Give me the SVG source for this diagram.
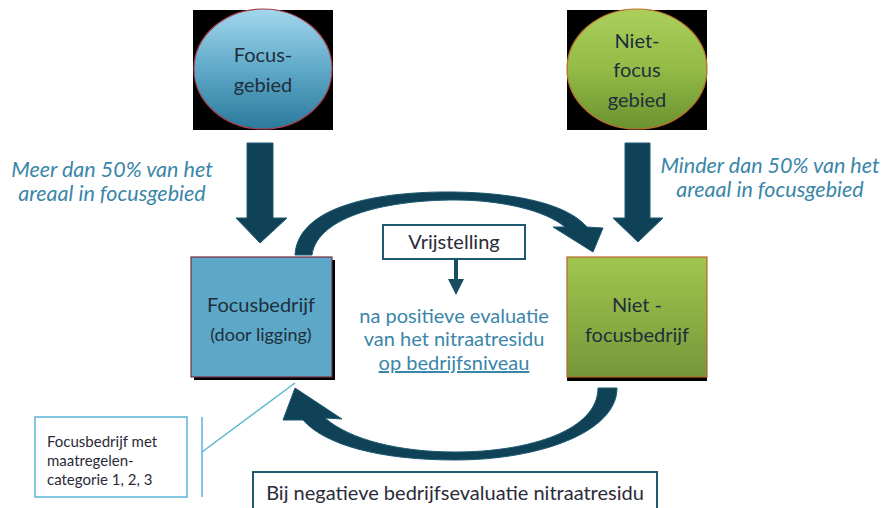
<svg xmlns="http://www.w3.org/2000/svg" width="881" height="508" viewBox="0 0 881 508">
<defs>
<linearGradient id="gBlue" x1="0" y1="0" x2="0" y2="1">
<stop offset="0" stop-color="#a3d6ec"/><stop offset="0.5" stop-color="#5fa9c9"/><stop offset="1" stop-color="#2b7a9c"/>
</linearGradient>
<linearGradient id="gGreen" x1="0" y1="0" x2="0" y2="1">
<stop offset="0" stop-color="#accf5c"/><stop offset="0.5" stop-color="#93bb46"/><stop offset="1" stop-color="#6a9230"/>
</linearGradient>
<linearGradient id="gGreenBox" x1="0" y1="0" x2="0" y2="1">
<stop offset="0" stop-color="#a0c64e"/><stop offset="1" stop-color="#76973a"/>
</linearGradient>
<marker id="smallHead" markerWidth="4" markerHeight="4" refX="2" refY="2" orient="auto" markerUnits="strokeWidth">
<path d="M0,0 L4,2 L0,4 Z" fill="#1a4d62"/>
</marker>
</defs>
<style>
.node{font-family:Lato,"Open Sans","Liberation Sans",sans-serif;fill:#1e2f3b;text-anchor:middle}
.blue{font-family:Lato,"Open Sans","Liberation Sans",sans-serif;fill:#3a86a8;text-anchor:middle}
.ital{font-style:italic}
.arrow{fill:#0f4256;stroke:#1d5a72;stroke-width:1}
.dark{font-family:Lato,"Open Sans","Liberation Sans",sans-serif;fill:#2b2b3a}
</style>
<rect width="881" height="508" fill="#ffffff"/>

<g id="focus-gebied">
<rect x="193" y="10" width="140" height="120" fill="#000"/>
<ellipse cx="263" cy="69" rx="69" ry="60" fill="url(#gBlue)" stroke="#a8404e" stroke-width="1.2"/>
<text class="node" x="263" y="62" font-size="20">Focus-</text>
<text class="node" x="263" y="92" font-size="20">gebied</text>
</g>

<g id="niet-focus-gebied">
<rect x="567" y="10" width="140" height="120" fill="#000"/>
<ellipse cx="637" cy="69" rx="70" ry="60" fill="url(#gGreen)" stroke="#c0702a" stroke-width="1.2"/>
<text class="node" x="637" y="48" font-size="20">Niet-</text>
<text class="node" x="637" y="77" font-size="20">focus</text>
<text class="node" x="637" y="107" font-size="20">gebied</text>
</g>

<g id="label-meer">
<text class="blue ital" x="112" y="177" font-size="21.5">Meer dan 50% van het</text>
<text class="blue ital" x="112" y="201" font-size="21.5">areaal in focusgebied</text>
</g>
<g id="label-minder">
<text class="blue ital" x="770" y="173" font-size="21.5">Minder dan 50% van het</text>
<text class="blue ital" x="770" y="197" font-size="21.5">areaal in focusgebied</text>
</g>

<g id="focusbedrijf">
<rect x="194" y="260" width="141" height="120" fill="#000"/>
<rect x="191" y="257" width="141" height="120" fill="#5da8c8" stroke="#7a2c40" stroke-width="1.2"/>
<text class="node" x="261" y="312" font-size="20">Focusbedrijf</text>
<text class="node" x="261" y="341" font-size="18">(door ligging)</text>
</g>

<g id="niet-focusbedrijf">
<rect x="567" y="261" width="140" height="120" fill="#000"/>
<rect x="567" y="257" width="140" height="120" fill="url(#gGreenBox)" stroke="#b8672a" stroke-width="1.2"/>
<text class="node" x="637" y="312" font-size="20">Niet -</text>
<text class="node" x="637" y="342" font-size="20">focusbedrijf</text>
</g>

<g id="vrijstelling">
<rect x="383" y="225" width="142" height="34" fill="#fff" stroke="#1d5a70" stroke-width="2"/>
<text class="dark" x="454" y="249" font-size="20" text-anchor="middle">Vrijstelling</text>
</g>

<g id="evaluatie-text">
<text class="blue" x="454" y="323" font-size="20">na positieve evaluatie</text>
<text class="blue" x="454" y="346" font-size="20">van het nitraatresidu</text>
<text class="blue" x="454" y="370" font-size="20" text-decoration="underline">op bedrijfsniveau</text>
</g>

<g id="negatief">
<rect x="253" y="472" width="404" height="45" fill="#fff" stroke="#1d5a70" stroke-width="2"/>
<text class="dark" x="455" y="500" font-size="20" text-anchor="middle">Bij negatieve bedrijfsevaluatie nitraatresidu</text>
</g>

<g id="callout">
<rect x="35" y="417" width="152" height="80" fill="#fff" stroke="#5ab4d6" stroke-width="1.5"/>
<text class="dark" x="47" y="447" font-size="15">Focusbedrijf met</text>
<text class="dark" x="47" y="466" font-size="15">maatregelen-</text>
<text class="dark" x="47" y="485" font-size="15">categorie 1, 2, 3</text>
<line x1="202" y1="417" x2="202" y2="497" stroke="#5ab4d6" stroke-width="1.5"/>
<line x1="202" y1="452" x2="295" y2="383" stroke="#5ab4d6" stroke-width="1.5"/>
</g>

<g id="connectors">
<path class="arrow" d="M247,143 L273,143 L273,218 L287,218 L260,243 L236,218 L247,218 Z"/>
<path class="arrow" d="M625,143 L650,143 L650,218 L663,218 L638,242 L613,218 L625,218 Z"/>
<path class="arrow" d="M295,255 C298,205 380,191 455,192 C520,193 568,205 587,227 L603,228 L593,252 L553,227 L565,227 C545,210 500,200 455,200 C390,200 318,215 312,255 Z"/>
<path class="arrow" d="M617,388 C617,432 540,460 455,460 C380,460 325,445 303,420 L283,420 L295,388 L342,419 L325,418 C350,440 400,452 455,452 C530,452 598,430 598,388 Z"/>
<line x1="456" y1="259" x2="456" y2="287" stroke="#1a4d62" stroke-width="4" marker-end="url(#smallHead)"/>
</g>
</svg>
